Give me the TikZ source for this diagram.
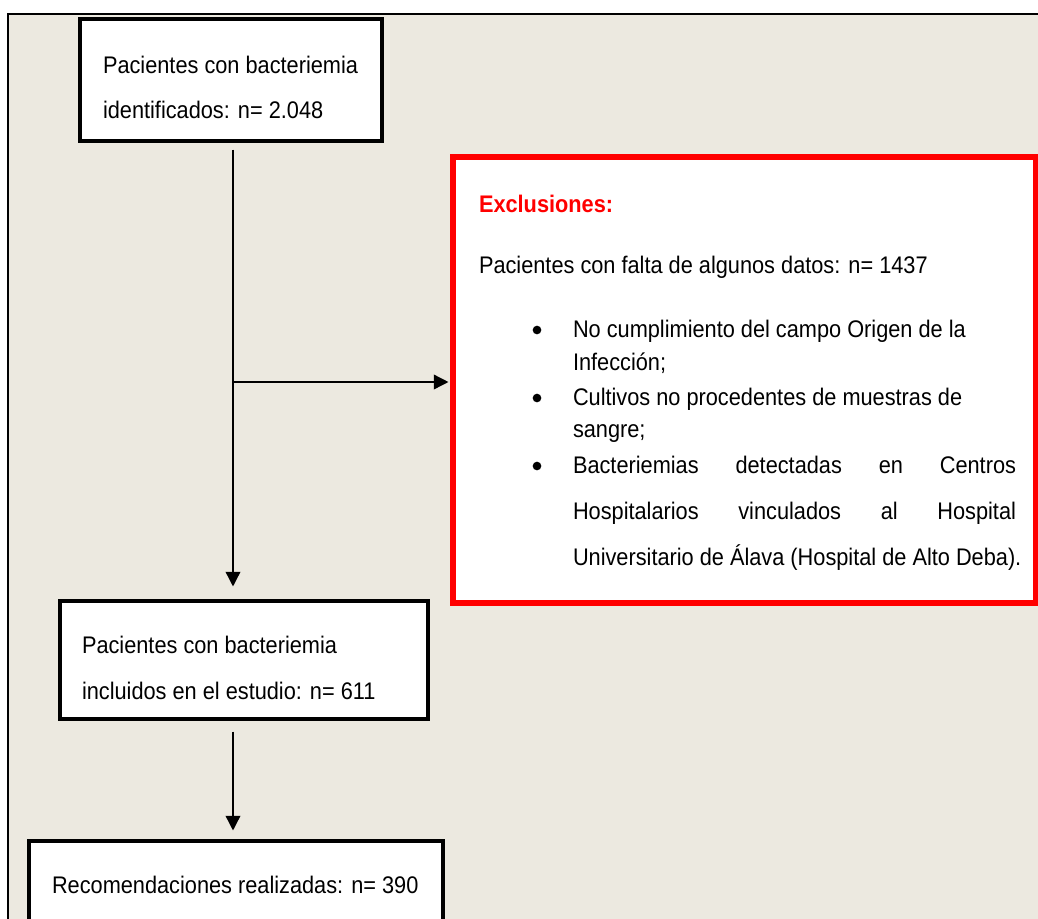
\documentclass[tikz,border=0pt]{standalone}
\usepackage{fontspec}
\setmainfont[FakeStretch=0.906]{Liberation Sans}
\usetikzlibrary{arrows.meta}
\definecolor{bgbeige}{RGB}{236,233,224}
\definecolor{pureRed}{RGB}{255,0,0}
\tikzset{
  blackbox/.style={draw=black, fill=white, line width=2.3pt, inner sep=0pt},
  redbox/.style={draw=pureRed, fill=white, line width=3.8pt, inner sep=0pt},
  txt/.style={anchor=base west, inner sep=0pt, outer sep=0pt},
  bul/.style={circle, fill=black, inner sep=0pt, minimum size=6.5pt},
  conn/.style={line width=1.1pt, draw=black},
  arr/.style={conn, -{Triangle[length=11pt,width=11pt]}},
}
\begin{document}
\begin{tikzpicture}[x=0.75pt,y=-0.75pt,font=\fontsize{18pt}{22pt}\selectfont]
\useasboundingbox (0,0) rectangle (1038,918);
\clip (0,0) rectangle (1038,918);
\fill[white] (0,0) rectangle (1038,918);
\draw[fill=bgbeige, line width=1.5pt] (8,14) rectangle (1060,940);
% boxes
\node[blackbox, minimum width=226.5pt, minimum height=91.5pt] (b1) at (231,80) {};
\node[blackbox, minimum width=276pt, minimum height=88.5pt] (b2) at (244,660) {};
\node[blackbox, minimum width=310.5pt, minimum height=120pt] (b3) at (236,921) {};
\node[redbox, minimum width=437.25pt, minimum height=334.5pt] (excl) at (744.5,380) {};
% texts box 1
\node[txt] (t1a) at (103,73) {Pacientes con bacteriemia};
\node[txt] (t1b) at (103,118) {identificados: n= 2.048};
% texts box 2
\node[txt] (t2a) at (82,653) {Pacientes con bacteriemia};
\node[txt] (t2b) at (82,699) {incluidos en el estudio: n= 611};
% text box 3
\node[txt] (t3) at (52,893) {Recomendaciones realizadas: n= 390};
% exclusions text
\node[txt, text=pureRed, font=\fontsize{18pt}{22pt}\selectfont\bfseries] (ex0) at (479,212) {Exclusiones:};
\node[txt] (ex1) at (479,273) {Pacientes con falta de algunos datos: n= 1437};
\node[bul] (bu1) at (537,330) {};
\node[txt] (ex2) at (573,337) {No cumplimiento del campo Origen de la};
\node[txt] (ex3) at (573,370) {Infección;};
\node[bul] (bu2) at (537,398) {};
\node[txt] (ex4) at (573,405) {Cultivos no procedentes de muestras de};
\node[txt] (ex5) at (573,437) {sangre;};
\node[bul] (bu3) at (537,466) {};
\node[txt] (ex6) at (573,473) {\makebox[332.25pt][s]{Bacteriemias detectadas en Centros}};
\node[txt] (ex7) at (573,519) {\makebox[332.25pt][s]{Hospitalarios vinculados al Hospital}};
\node[txt] (ex8) at (573,565) {Universitario de Álava (Hospital de Alto Deba).};
% connectors
\coordinate (j) at (233,382);
\draw[arr, shorten <=5.25pt, shorten >=9.75pt] (b1.south -| j) -- (b2.north -| j);
\draw[arr, shorten >=1.5pt] (j) -- (excl.west |- j);
\draw[arr, shorten <=8.25pt, shorten >=6.75pt] (b2.south -| j) -- (b3.north -| j);
\end{tikzpicture}
\end{document}
